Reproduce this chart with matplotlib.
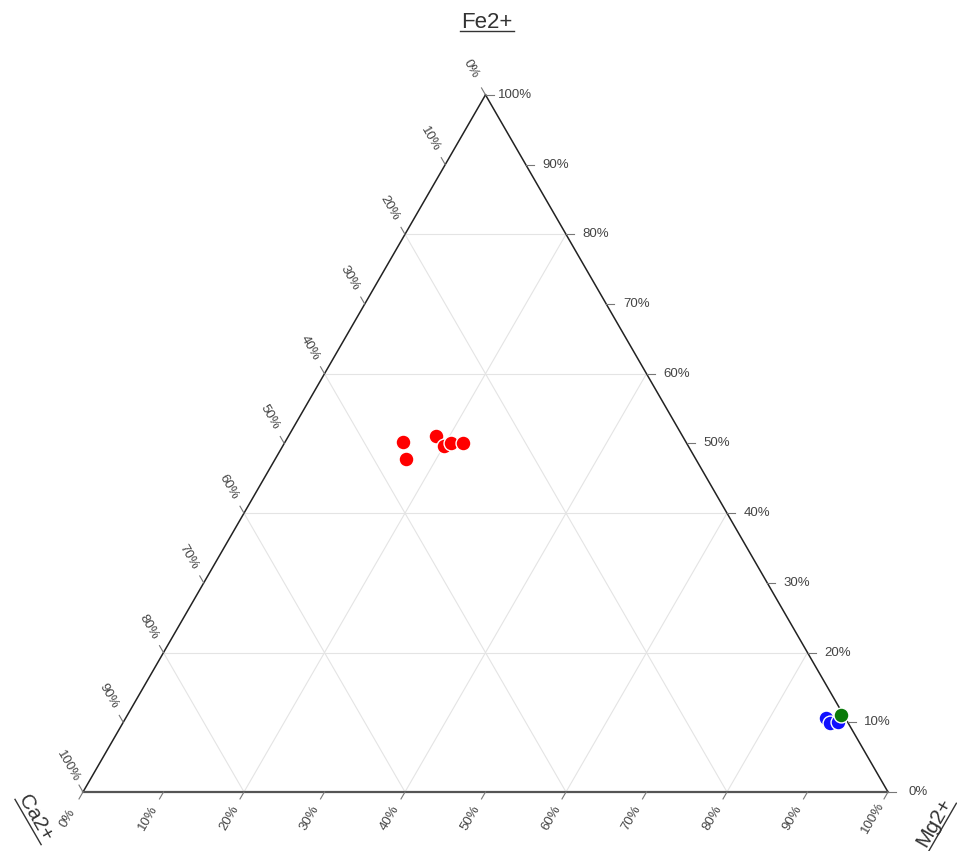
import numpy as np
import matplotlib
matplotlib.use("Agg")
from matplotlib import pyplot as plt

plt.rcParams["font.family"] = ["Liberation Sans", "DejaVu Sans"]

# compositions in percent (Ca2+, Mg2+, Fe2+)
red_ca = [35.1, 36.0, 30.6, 30.4, 29.3, 27.7]
red_mg = [14.7, 16.2, 18.3, 20.0, 20.7, 22.2]
red_fe = [50.2, 47.8, 51.1, 49.6, 50.0, 50.1]

blue_ca = [2.4, 2.3, 1.2]
blue_mg = [87.0, 87.8, 88.7]
blue_fe = [10.6, 9.9, 10.1]

green_ca = [0.3]
green_mg = [88.6]
green_fe = [11.1]

tick_values = [0, 10, 20, 30, 40, 50, 60, 70, 80, 90, 100]
grid_values = [20, 40, 60, 80]

H = np.sqrt(3) / 2
PX = 805.0  # pixels per unit side


def to_xy(ca, mg, fe):
    ca, mg, fe = (np.asarray(v, dtype=float) for v in (ca, mg, fe))
    tot = ca + mg + fe
    return (mg + fe / 2) / tot, fe / tot * H


fig = plt.figure(figsize=(9.57, 8.51), dpi=100)
ax = fig.add_axes([0, 0, 1, 1])
ax.set_xlim(-83 / PX, (957 - 83) / PX)
ax.set_ylim(-(851 - 792) / PX, 792 / PX)
ax.axis("off")

# grid lines parallel to each side
for g in grid_values:
    v = g / 100
    for a, b in [((0, 1 - v, v), (1 - v, 0, v)),      # constant Fe
                 ((1 - v, v, 0), (0, v, 1 - v)),      # constant Mg
                 ((v, 1 - v, 0), (v, 0, 1 - v))]:     # constant Ca
        x, y = to_xy([a[0], b[0]], [a[1], b[1]], [a[2], b[2]])
        ax.plot(x, y, color="#e4e4e4", lw=0.8, zorder=1)

# triangle outline
x, y = to_xy([0, 0], [1, 0], [0, 1])
ax.plot(x, y, color="#222222", lw=1.1, zorder=2)
x, y = to_xy([1, 0], [0, 0], [0, 1])
ax.plot(x, y, color="#222222", lw=1.1, zorder=2)
x, y = to_xy([1, 0], [0, 1], [0, 0])
ax.plot(x, y, color="#555555", lw=1.6, zorder=2)

# ticks and tick labels on each side
tick_len = 8 / PX
lab_dist = 30 / PX
sides = [
    # (point on side for value v, outward direction, label rotation)
    (lambda v: to_xy(0, 1 - v, v), (1.0, 0.0), 0),            # Fe, right side
    (lambda v: to_xy(v, 0, 1 - v), (-0.5, H), -60),          # Ca, left side
    (lambda v: to_xy(1 - v, v, 0), (-0.5, -H), 60),          # Mg, bottom
]
for point, (dx, dy), rot in sides:
    for t in tick_values:
        px, py = point(t / 100)
        ax.plot([px, px + dx * tick_len], [py, py + dy * tick_len],
                color="#777777", lw=0.8, zorder=2)
        ax.text(px + dx * lab_dist, py + dy * lab_dist, f"{t}%",
                rotation=rot, rotation_mode="anchor", ha="center",
                va="center", fontsize=9.5, color="#444444")

# data points
x, y = to_xy(red_ca, red_mg, red_fe)
ax.scatter(x, y, s=115, color="#ff0000", edgecolor="white", lw=1, zorder=5)
x, y = to_xy(blue_ca, blue_mg, blue_fe)
ax.scatter(x, y, s=115, color="#1010ff", edgecolor="white", lw=1, zorder=5)
x, y = to_xy(green_ca, green_mg, green_fe)
ax.scatter(x, y, s=115, color="#0a7a0a", edgecolor="white", lw=1, zorder=6)

# underlined axis titles
renderer = fig.canvas.get_renderer()


def title(x, y, s, rot, size=16):
    t = ax.text(x, y, s, rotation=rot, rotation_mode="anchor", ha="center",
                va="center", fontsize=size, color="#333333")
    w, h, d = renderer.get_text_width_height_descent(
        s, t.get_fontproperties(), ismath=False)
    off = -(h / 2 + 1)
    ang = np.radians(rot)
    ux, uy = np.cos(ang), np.sin(ang)
    nx, ny = -uy, ux
    ends = [(-w / 2 - 1, off), (w / 2 + 1, off)]
    xs = [x + (a * ux + b * nx) / PX for a, b in ends]
    ys = [y + (a * uy + b * ny) / PX for a, b in ends]
    ax.plot(xs, ys, color="#333333", lw=1.0)


title((487 - 83) / PX, (792 - 22) / PX, "Fe2+", 0)
title((35 - 83) / PX, (792 - 818) / PX, "Ca2+", -60, 15)
title((934 - 83) / PX, (792 - 822) / PX, "Mg2+", 60, 15)

fig.savefig("out.png", dpi=100)
